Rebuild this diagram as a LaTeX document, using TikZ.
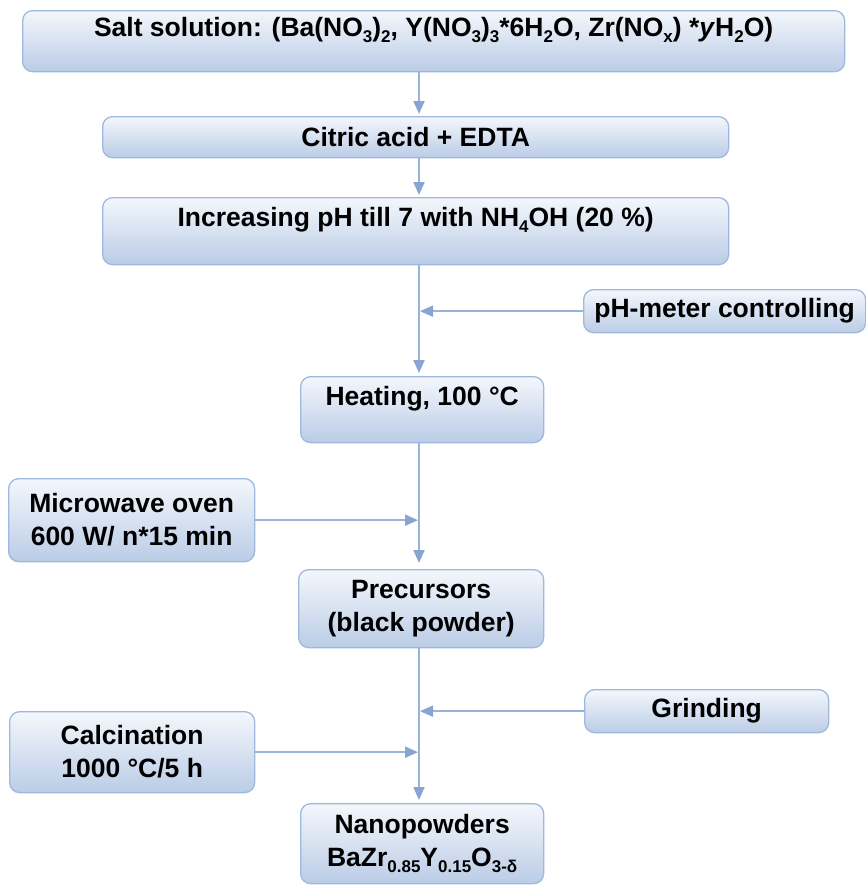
\documentclass[tikz,border=0pt]{standalone}
\usepackage{fontspec}
\setmainfont{Liberation Sans}
\usetikzlibrary{arrows.meta}
\definecolor{lnc}{RGB}{152,181,217}
\definecolor{tipc}{RGB}{135,165,208}
\definecolor{bdc}{RGB}{158,185,221}
\definecolor{topc}{RGB}{244,247,252}
\definecolor{botc}{RGB}{186,204,230}
\newcommand{\chs}[1]{\raisebox{-0.22em}{\fontsize{17}{17}\selectfont #1}}
\begin{document}
\begin{tikzpicture}[x=1pt,y=-1pt,
  font=\fontsize{26.5}{33}\selectfont\bfseries,
  box/.style={draw=bdc, line width=1.3pt, rounded corners=10pt,
    top color=topc, bottom color=botc, inner sep=0pt, align=center,
    anchor=north west},
  conn/.style={draw=lnc, line width=2pt, -{Triangle[length=13pt,width=11pt,color=tipc]}}]
\useasboundingbox (0,0) rectangle (866,886);
\coordinate (mx) at (419,0);
% boxes
\node[box, minimum width=822pt, minimum height=61pt, text height=26pt, text depth=35pt] (salt) at (22,10)
  {Salt solution: (Ba(NO\chs{3})\chs{2}, Y(NO\chs{3})\chs{3}*6H\chs{2}O, Zr(NO\chs{x}) *\textit{y}H\chs{2}O)};
\node[box, minimum width=626pt, minimum height=41pt] (citric) at (102,116) {Citric acid + EDTA};
\node[box, minimum width=626pt, minimum height=67pt, text height=29pt, text depth=38pt] (incr) at (102,197)
  {Increasing pH till 7 with NH\chs{4}OH (20 \%)};
\node[box, minimum width=282pt, minimum height=43pt] (phm) at (583,289) {pH-meter controlling};
\node[box, minimum width=243pt, minimum height=66pt, text height=29pt, text depth=37pt] (heat) at (300,376) {Heating, 100 °C};
\node[box, minimum width=246pt, minimum height=83pt] (micro) at (8,478) {Microwave oven\\600 W/ n*15 min};
\node[box, minimum width=245pt, minimum height=78pt] (prec) at (298,569) {Precursors\\(black powder)};
\node[box, minimum width=244pt, minimum height=43pt] (grind) at (584,689) {Grinding};
\node[box, minimum width=245pt, minimum height=81pt] (calc) at (9,711) {Calcination\\1000 °C/5 h};
\node[box, minimum width=243pt, minimum height=80pt] (nano) at (300,803)
  {Nanopowders\\BaZr\chs{0.85}Y\chs{0.15}O\chs{3-δ}};
% connectors
\draw[conn, shorten >=2pt] (salt.south -| mx) -- (citric.north -| mx);
\draw[conn, shorten >=2pt] (citric.south -| mx) -- (incr.north -| mx);
\draw[conn, shorten >=3pt] (incr.south -| mx) -- (heat.north -| mx);
\draw[conn, shorten >=1pt] (phm.west) -- (phm.west -| mx);
\draw[conn, shorten >=6pt] (heat.south -| mx) -- (prec.north -| mx);
\draw[conn, shorten >=1pt] (micro.east) -- (micro.east -| mx);
\draw[conn, shorten >=3pt] (prec.south -| mx) -- (nano.north -| mx);
\draw[conn, shorten >=1pt] (grind.west) -- (grind.west -| mx);
\draw[conn, shorten >=1pt] (calc.east) -- (calc.east -| mx);
\end{tikzpicture}
\end{document}
